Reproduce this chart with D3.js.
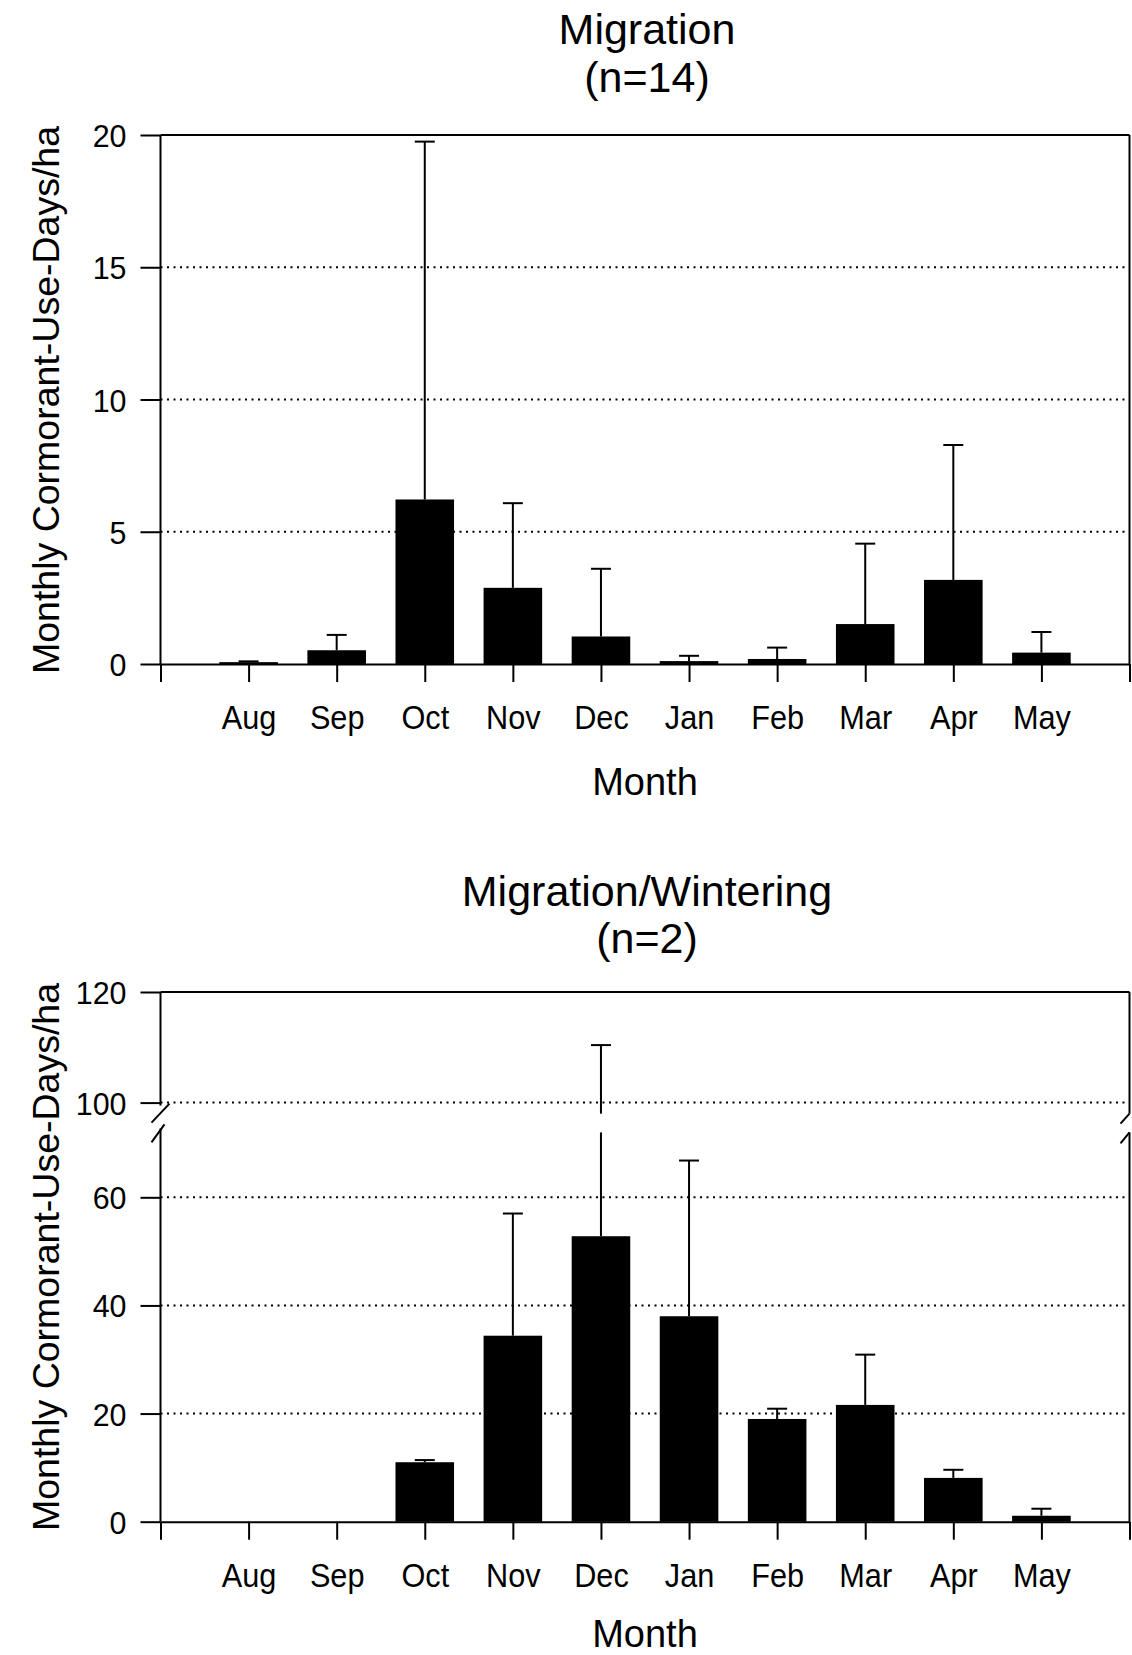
<!DOCTYPE html>
<html><head><meta charset="utf-8">
<script src="https://cdn.jsdelivr.net/npm/d3@7"></script>
<style>
body{margin:0;background:#fff}
svg text{font-family:"Liberation Sans",Arial,Helvetica,sans-serif;fill:#000}
</style>
</head><body>
<svg id="c" width="1132" height="1655"></svg>
<script>
// ---- data ----
const months = ["Aug","Sep","Oct","Nov","Dec","Jan","Feb","Mar","Apr","May"];
const migMean  = [0.07, 0.52, 6.22, 2.88, 1.04, 0.11, 0.19, 1.51, 3.18, 0.43];
const migUpper = [0.10, 1.10, 19.75, 6.08, 3.60, 0.31, 0.62, 4.55, 8.28, 1.21];
const winMean  = [0, 0, 11.0, 34.4, 52.8, 38.0, 19.0, 21.6, 8.1, 1.1];
const winUpper = [null, null, 11.4, 57.0, 110.4, 66.8, 20.9, 30.9, 9.6, 2.4];
const migTicks = [0, 5, 10, 15, 20];
const winTicksLow = [0, 20, 40, 60];
const winTicksHigh = [100, 120];
const winGridLow = [20, 40, 60];
const winGridHigh = [100];
const migGrid = [5, 10, 15];
const breakLow = 72, breakHigh = 98;

const svg = d3.select("#c");
const x = d3.scaleLinear().domain([0, 11]).range([160.5, 1129.5]);
const step = x(1) - x(0);
const barW = step * 0.665;
const capW = 20;
const SW = 2;

// slightly condense a text selection horizontally (reference typeface is narrower/taller)
function condense(sel, f) {
  sel.each(function () {
    const L = this.getComputedTextLength();
    if (L > 0) d3.select(this).attr("textLength", L * f).attr("lengthAdjust", "spacingAndGlyphs");
  });
}

function xAxis(g, y0) {
  const ax = d3.axisBottom(x).tickValues(d3.range(0, 12)).tickSize(18).tickSizeOuter(0)
    .tickPadding(24).tickFormat(d => months[d - 1] || "");
  g.attr("transform", `translate(0,${y0})`).call(ax);
  g.selectAll("line").attr("stroke", "#000").attr("stroke-width", SW);
  g.select(".domain").attr("stroke", "#000").attr("stroke-width", SW);
  const t = g.selectAll("text").attr("font-size", 33).attr("fill", "#000");
  condense(t, 0.93);
}
function yAxis(g, y, ticks) {
  const ax = d3.axisLeft(y).tickValues(ticks).tickSize(20).tickPadding(14);
  g.attr("transform", `translate(${x(0)},0)`).call(ax);
  g.select(".domain").remove();
  g.selectAll("line").attr("stroke", "#000").attr("stroke-width", SW);
  const t = g.selectAll("text").attr("font-size", 32).attr("fill", "#000").attr("dy", "0.36em");
  condense(t, 0.95);
}
function grid(g, y, vals) {
  g.selectAll("line.grid").data(vals).join("line").attr("class", "grid")
    .attr("x1", x(0)).attr("x2", x(11)).attr("y1", d => y(d)).attr("y2", d => y(d))
    .attr("stroke", "#000").attr("stroke-width", 2).attr("stroke-dasharray", "2,4.5");
}
function bars(g, yv, mean) {
  g.selectAll("rect").data(mean).join("rect")
    .attr("x", (d, i) => x(i + 1) - barW / 2).attr("width", barW)
    .attr("y", d => yv(d)).attr("height", d => Math.max(0, yv(0) - yv(d)))
    .attr("fill", "#000");
}
function vline(g, xx, y1, y2) {
  g.append("line").attr("x1", xx).attr("x2", xx).attr("y1", y1).attr("y2", y2)
    .attr("stroke", "#000").attr("stroke-width", SW);
}
function hline(g, x1, x2, yy) {
  g.append("line").attr("x1", x1).attr("x2", x2).attr("y1", yy).attr("y2", yy)
    .attr("stroke", "#000").attr("stroke-width", SW);
}
function titles(cx, t1, b1, t2, b2) {
  svg.append("text").attr("x", cx).attr("y", b1).attr("text-anchor", "middle").attr("font-size", 43).text(t1);
  svg.append("text").attr("x", cx).attr("y", b2).attr("text-anchor", "middle").attr("font-size", 43).text(t2);
}
function ylab(cy) {
  svg.append("text").attr("transform", `translate(59,${cy}) rotate(-90)`)
    .attr("text-anchor", "middle").attr("font-size", 37.5).text("Monthly Cormorant-Use-Days/ha");
}
function xlab(b) {
  svg.append("text").attr("x", 645).attr("y", b).attr("text-anchor", "middle").attr("font-size", 38).text("Month");
}

// ---- Panel 1: Migration ----
{
  const y = d3.scaleLinear().domain([0, 20]).range([664, 135]);
  const g = svg.append("g");
  grid(g.append("g"), y, migGrid);
  bars(g.append("g"), y, migMean);
  const eg = g.append("g");
  migMean.forEach((m, i) => {
    const cx = x(i + 1);
    vline(eg, cx, y(m), y(migUpper[i]));
    hline(eg, cx - capW / 2, cx + capW / 2, y(migUpper[i]));
  });
  xAxis(g.append("g"), y(0));
  yAxis(g.append("g"), y, migTicks);
  hline(g, x(0), x(11), y(20));
  vline(g, x(0), y(20), y(0));
  vline(g, x(11), y(20), y(0));
  titles(647, "Migration", 44, "(n=14)", 92);
  ylab(400);
  xlab(795);
}

// ---- Panel 2: Migration/Wintering (broken axis) ----
{
  const yl = d3.scaleLinear().domain([0, 60]).range([1521.7, 1197.3]);
  const yh = d3.scaleLinear().domain([100, 120]).range([1102.6, 992]);
  const g = svg.append("g");
  grid(g.append("g"), yl, winGridLow);
  grid(g.append("g"), yh, winGridHigh);
  bars(g.append("g"), yl, winMean);
  const eg = g.append("g");
  winMean.forEach((m, i) => {
    const u = winUpper[i];
    if (u == null) return;
    const cx = x(i + 1);
    if (u > breakLow) {
      vline(eg, cx, yl(m), yl(breakLow));
      vline(eg, cx, yh(breakHigh), yh(u));
      hline(eg, cx - capW / 2, cx + capW / 2, yh(u));
    } else {
      vline(eg, cx, yl(m), yl(u));
      hline(eg, cx - capW / 2, cx + capW / 2, yl(u));
    }
  });
  xAxis(g.append("g"), yl(0));
  yAxis(g.append("g"), yl, winTicksLow);
  yAxis(g.append("g"), yh, winTicksHigh);
  hline(g, x(0), x(11), yh(120));
  // left axis with break
  vline(g, x(0), yh(120), yh(100) + 3);
  vline(g, x(0), yl(breakLow) - 4, yl(0));
  // right axis with break
  vline(g, x(11), yh(120), yh(breakHigh));
  vline(g, x(11), yl(breakLow), yl(0));
  // break slashes
  const sl = (x1, y1, x2, y2) => g.append("line").attr("x1", x1).attr("y1", y1).attr("x2", x2).attr("y2", y2)
    .attr("stroke", "#000").attr("stroke-width", SW);
  const ya = yh(100), yb = yl(breakLow);
  sl(x(0) - 9, ya + 20, x(0) + 9, ya + 1);
  sl(x(0) - 9, yb + 10, x(0) + 4, yb - 8);
  sl(x(11) - 9, yh(breakHigh) + 10, x(11), yh(breakHigh));
  sl(x(11) - 9, yb + 11, x(11), yb);
  titles(647, "Migration/Wintering", 906, "(n=2)", 953);
  ylab(1257);
  xlab(1647);
}
</script>
</body></html>
